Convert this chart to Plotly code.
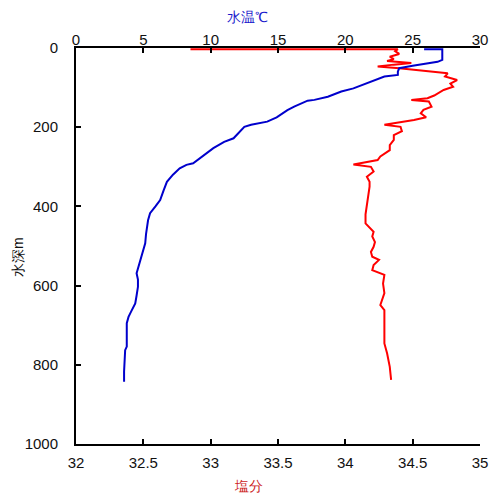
import plotly.graph_objects as go

# temperature profile (top axis)
depth_t = [3, 3, 30, 35, 45, 51, 60, 68, 72, 85, 102, 110, 123, 131, 133, 148, 157,
           175, 186, 194, 199, 228, 237, 253, 270, 291, 295, 304, 320, 338, 360, 384,
           400, 417, 435, 451, 470, 493, 510, 527, 550, 569, 585, 603, 625, 645, 665,
           679, 695, 720, 754, 763, 790, 817, 843]
temp = [25.85, 27.2, 27.2, 26.85, 25.0, 24.0, 23.9, 23.9, 22.9, 21.9, 20.6, 19.7, 18.7,
        17.7, 17.2, 16.2, 15.7, 14.9, 14.2, 13.0, 12.5, 11.7, 11.0, 10.2, 9.5, 8.7, 8.2,
        7.7, 7.2, 6.75, 6.5, 6.25, 5.9, 5.5, 5.35, 5.26, 5.2, 5.14, 5.0, 4.9, 4.7, 4.5,
        4.6, 4.6, 4.5, 4.4, 4.1, 3.9, 3.77, 3.77, 3.77, 3.65, 3.6, 3.57, 3.57]

# salinity profile (bottom axis)
depth_s = [3, 3, 8, 15, 22, 28, 33, 38, 42, 47, 51, 55, 60, 64, 72, 81, 90, 98, 106, 114,
           120, 127, 131, 135, 148, 156, 165, 175, 182, 194, 199, 210, 220, 232, 245, 258,
           266, 274, 283, 294, 300, 312, 325, 338, 350, 370, 392, 420, 443, 464, 476, 490,
           502, 515, 527, 535, 548, 561, 573, 595, 619, 649, 662, 700, 746, 771, 805, 838]
sal = [32.85, 34.39, 34.37, 34.40, 34.33, 34.36, 34.31, 34.49, 34.36, 34.24, 34.40, 34.50,
       34.66, 34.76, 34.74, 34.83, 34.78, 34.80, 34.73, 34.69, 34.66, 34.61, 34.49, 34.62,
       34.64, 34.58, 34.56, 34.60, 34.51, 34.29, 34.41, 34.42, 34.36, 34.36, 34.33, 34.33,
       34.29, 34.26, 34.24, 34.06, 34.19, 34.21, 34.16, 34.18, 34.18, 34.17, 34.16, 34.15,
       34.15, 34.21, 34.20, 34.22, 34.21, 34.19, 34.20, 34.25, 34.21, 34.20, 34.29, 34.28,
       34.29, 34.26, 34.29, 34.29, 34.29, 34.31, 34.33, 34.34]

FONT = "Liberation Sans, Arial, sans-serif"
OFF = 8  # page body margin
W, H = 492, 492
L, R, T, B = 76 - OFF, 20, 48 - OFF, 56

fig = go.Figure()
fig.add_trace(go.Scatter(
    x=sal, y=depth_s, mode="lines", xaxis="x", yaxis="y",
    line=dict(color="#ff0000", width=2), showlegend=False,
))
fig.add_trace(go.Scatter(
    x=temp, y=depth_t, mode="lines", xaxis="x2", yaxis="y",
    line=dict(color="#0000cc", width=2), showlegend=False,
))

axis_common = dict(
    showline=True, linecolor="black", linewidth=2, ticks="inside", ticklen=5,
    tickwidth=2, tickcolor="black", showgrid=False, zeroline=False,
    tickfont=dict(family=FONT, size=15, color="#111"),
)

pw, ph = W - L - R, H - T - B


def px(x):
    return (x - OFF - L) / pw


def py(y):
    return (H - B - (y - OFF)) / ph


title_font = dict(family=FONT, size=14)

fig.update_layout(
    width=W, height=H,
    margin=dict(l=L, r=R, t=T, b=B),
    plot_bgcolor="white", paper_bgcolor="white",
    xaxis=dict(range=[32, 35], dtick=0.5, side="bottom", anchor="y",
               ticklabelstandoff=4, **axis_common),
    xaxis2=dict(range=[0, 30], dtick=5, side="top", overlaying="x", anchor="y",
                ticklabelstandoff=-5, **axis_common),
    yaxis=dict(range=[1000, 0], dtick=200, ticklabelstandoff=13, **axis_common),
    annotations=[
        dict(text="水温℃", xref="paper", yref="paper", x=px(247), y=py(17),
             xanchor="center", yanchor="middle", showarrow=False,
             font=dict(title_font, color="#1a1acc")),
        dict(text="塩分", xref="paper", yref="paper", x=px(248), y=py(486),
             xanchor="center", yanchor="middle", showarrow=False,
             font=dict(title_font, color="#cc1a1a")),
        dict(text="水深m", xref="paper", yref="paper", x=px(18), y=py(257),
             xanchor="center", yanchor="middle", showarrow=False, textangle=-90,
             font=dict(title_font, color="#111")),
    ],
)

fig.write_html("out.html")
